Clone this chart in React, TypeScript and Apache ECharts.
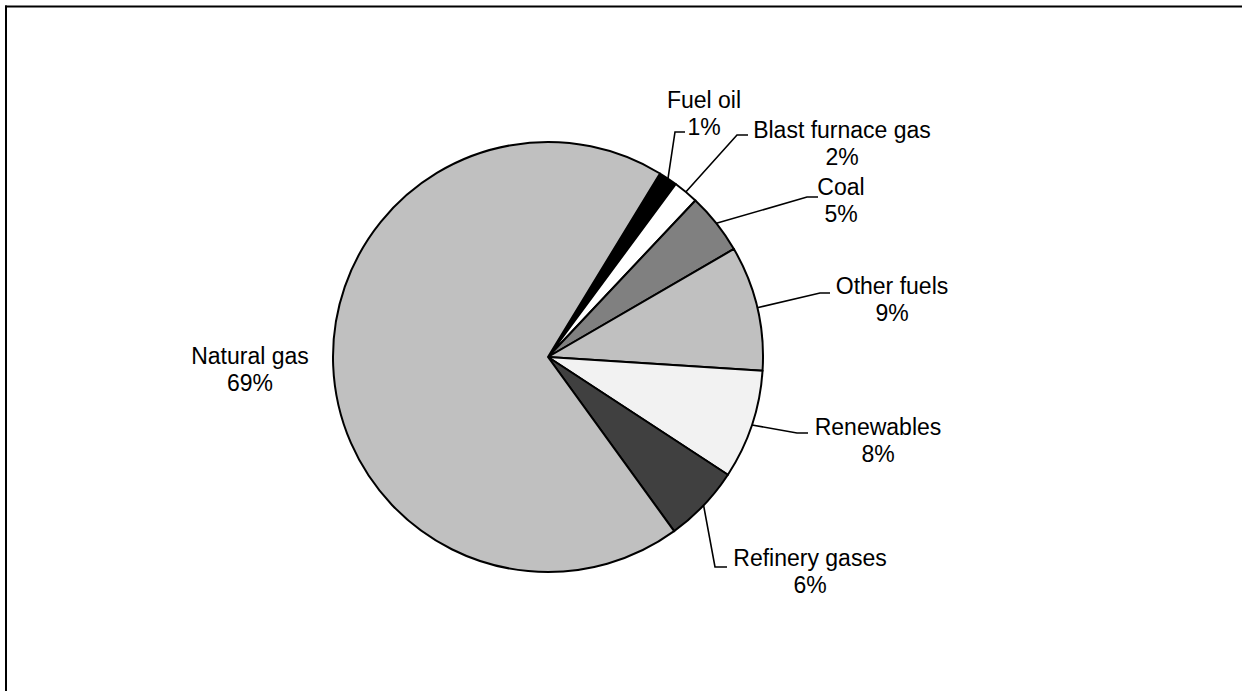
import React, { useEffect, useRef } from "react";
import * as echarts from "echarts";

// Data (shares in %)
const categories = [
  "Fuel oil",
  "Blast furnace gas",
  "Coal",
  "Other fuels",
  "Renewables",
  "Refinery gases",
  "Natural gas",
];
const shares = [1.4, 1.9, 4.6, 9.4, 8.2, 5.8, 68.7];

// Styles
const sliceColors = ["#000000", "#ffffff", "#808080", "#c0c0c0", "#f2f2f2", "#404040", "#c0c0c0"];

// Label placement (label box centres) and leader-line bends, in pixels
const labelCenters: number[][] = [
  [704, 113],
  [842, 143],
  [841, 200],
  [892, 299],
  [878, 440],
  [810, 571],
  [250, 369],
];
const leaderPoints: (number[][] | null)[] = [
  [[675, 132], [685, 132]],
  [[737, 135], [748, 135]],
  [[807, 197], [818, 197]],
  [[820, 293], [830, 293]],
  [[797, 433], [808, 433]],
  [[715, 567], [727, 567]],
  null,
];

export default function App() {
  const ref = useRef<HTMLDivElement>(null);

  useEffect(() => {
    if (!ref.current) return;
    const chart = echarts.init(ref.current, undefined, { renderer: "svg" });
    const data = categories.map((name, i) => ({
      name,
      value: shares[i],
      itemStyle: { color: sliceColors[i] },
      labelLine: { show: leaderPoints[i] !== null },
    }));
    chart.setOption({
      animation: false,
      backgroundColor: "#ffffff",
      graphic: [
        {
          type: "line",
          shape: { x1: 6, y1: 5.5, x2: 6, y2: 691 },
          style: { stroke: "#000", lineWidth: 2 },
        },
        {
          type: "line",
          shape: { x1: 5, y1: 6.5, x2: 1242, y2: 6.5 },
          style: { stroke: "#000", lineWidth: 2 },
        },
      ],
      series: [
        {
          type: "pie",
          center: [548, 357],
          radius: 215,
          startAngle: 58.6,
          clockwise: true,
          avoidLabelOverlap: false,
          data,
          itemStyle: { borderColor: "#000", borderWidth: 2 },
          emphasis: { disabled: true },
          label: {
            show: true,
            position: "outside",
            color: "#000",
            fontFamily: "'Liberation Sans', Arial, sans-serif",
            fontSize: 23,
            lineHeight: 27,
            align: "center",
            formatter: (p: any) => `${p.name}\n${Math.round(p.percent)}%`,
          },
          labelLine: {
            show: true,
            length: 10,
            length2: 10,
            smooth: false,
            lineStyle: { color: "#000", width: 1.6 },
          },
          labelLayout: (params: any) => {
            const i = params.dataIndex;
            const c = labelCenters[i];
            const res: any = { x: c[0], y: c[1], align: "center", verticalAlign: "middle" };
            const lead = leaderPoints[i];
            if (lead && params.labelLinePoints) {
              res.labelLinePoints = [params.labelLinePoints[0], lead[0], lead[1]];
            }
            return res;
          },
        },
      ],
    });
    return () => chart.dispose();
  }, []);

  return (
    <div
      ref={ref}
      style={{ position: "absolute", left: 0, top: 0, width: 1242, height: 691 }}
    />
  );
}
